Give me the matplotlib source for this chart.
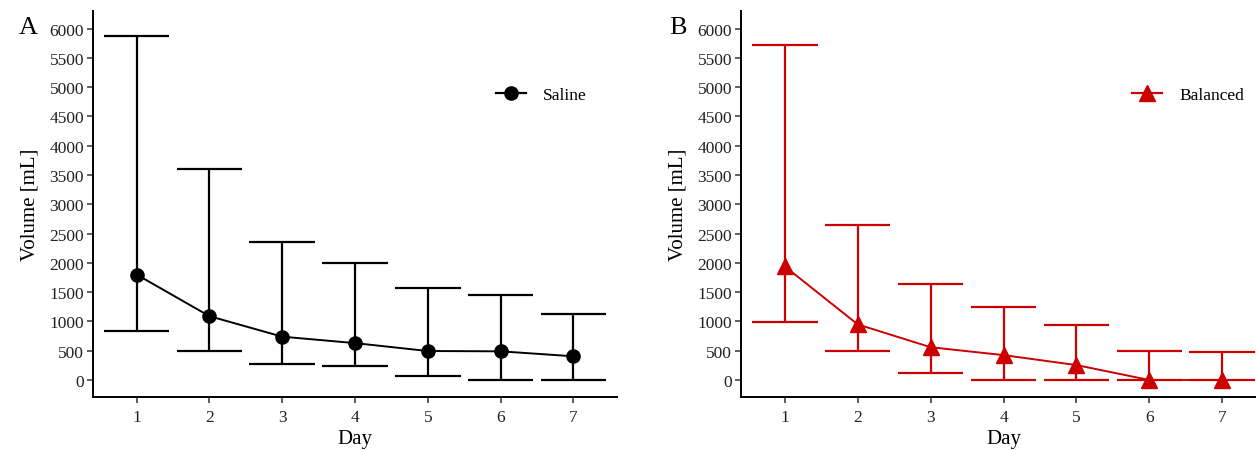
import matplotlib
matplotlib.use("Agg")
import matplotlib.pyplot as plt
from matplotlib.lines import Line2D

days = [1, 2, 3, 4, 5, 6, 7]
saline_mid = [1800, 1090, 740, 630, 495, 490, 405]
saline_low = [830, 490, 275, 235, 65, 0, 0]
saline_high = [5880, 3605, 2352, 1990, 1573, 1445, 1130]
balanced_mid = [1940, 950, 560, 425, 255, 0, 0]
balanced_low = [990, 490, 115, 0, 0, 0, 0]
balanced_high = [5725, 2655, 1633, 1240, 945, 500, 485]
yticks = list(range(0, 6001, 500))

plt.rcParams['font.family'] = ['Liberation Serif', 'DejaVu Serif']

W, H = 1256, 452
fig = plt.figure(figsize=(W / 100, H / 100), dpi=100)

def make_ax(left_px, right_px):
    return fig.add_axes([left_px / W, 1 - 398 / H, (right_px - left_px) / W, (398 - 12) / H])

axA = make_ax(93, 617)
axB = make_ax(741, 1266)

def draw(ax, mid, low, high, color, marker, ms, label, legx):
    ax.vlines(days, low, high, color=color, lw=1.6, zorder=2)
    ax.hlines(low, [d - 0.45 for d in days], [d + 0.45 for d in days], color=color, lw=1.6, zorder=2)
    ax.hlines(high, [d - 0.45 for d in days], [d + 0.45 for d in days], color=color, lw=1.6, zorder=2)
    ax.plot(days, mid, color=color, lw=1.4, marker=marker, ms=ms, zorder=3)
    ax.set_xlim(0.4, 7.6)
    ax.set_ylim(-290, 6300)
    ax.set_xticks(days)
    ax.set_yticks(yticks)
    ax.set_xticklabels([str(d) for d in days])
    ax.set_yticklabels([str(v) for v in yticks])
    for s in ['top', 'right']:
        ax.spines[s].set_visible(False)
    for s in ['left', 'bottom']:
        ax.spines[s].set_linewidth(1.4)
        ax.spines[s].set_color('black')
    ax.tick_params(axis='both', direction='out', length=4.5, width=1.1, color='#333333',
                   labelsize=12.5, labelcolor='#222222', pad=2)
    ax.tick_params(axis='x', pad=4)
    ax.set_xlabel('Day', fontsize=15, labelpad=3)
    ax.set_ylabel('Volume [mL]', fontsize=15, labelpad=7)
    h = Line2D([0], [0], color=color, lw=1.6, marker=marker, ms=ms)
    ax.legend([h], [label], loc='center left', bbox_to_anchor=(legx, 0.782),
              frameon=False, fontsize=12.5, handlelength=1.7, handletextpad=1.0,
              borderaxespad=0, borderpad=0)
    return ax

draw(axA, saline_mid, saline_low, saline_high, 'black', 'o', 9.5, 'Saline', 0.77)
draw(axB, balanced_mid, balanced_low, balanced_high, '#CC0000', '^', 11, 'Balanced', 0.745)

fig.text(28 / W, 1 - 28 / H, 'A', fontsize=19, ha='center', va='center')
fig.text(678 / W, 1 - 28 / H, 'B', fontsize=19, ha='center', va='center')

fig.savefig('out.png', dpi=100)
